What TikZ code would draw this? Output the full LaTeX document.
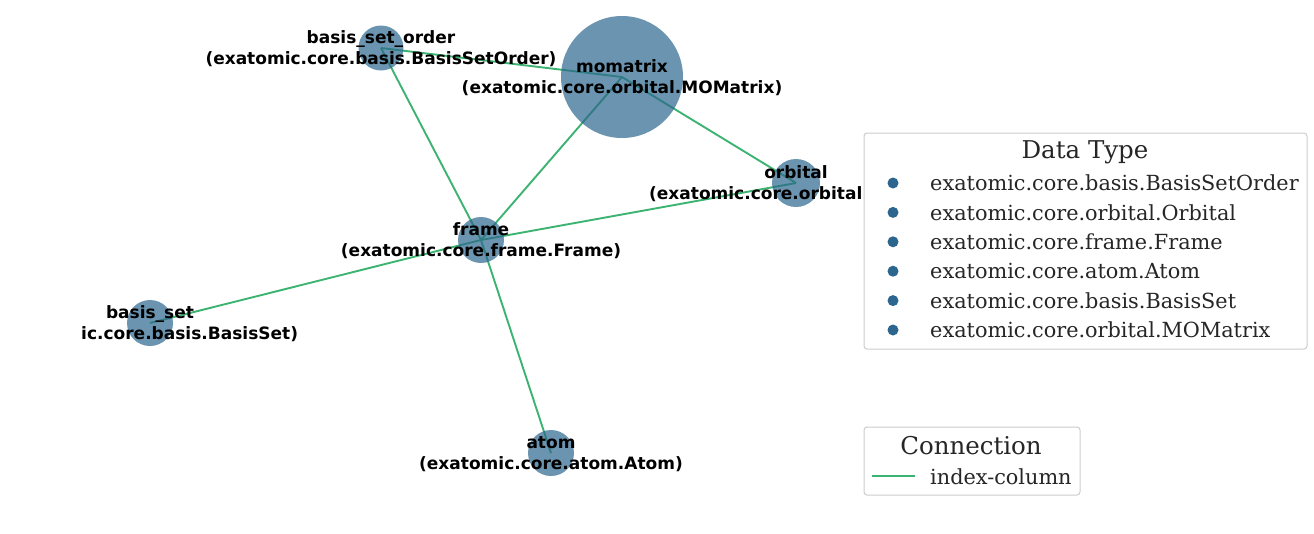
\documentclass[tikz,border=0pt]{standalone}
\usepackage{fontspec}
\newfontfamily\lblfont{DejaVu Sans}
\newfontfamily\legfont{DejaVu Serif}
\definecolor{nodec}{HTML}{2C668E}
\definecolor{edgec}{HTML}{3CB371}
\definecolor{legdot}{HTML}{2C668E}
\definecolor{framec}{HTML}{CCCCCC}
\definecolor{legtext}{HTML}{262626}
\tikzset{
  gnode/.style={circle, fill=nodec, fill opacity=0.7, inner sep=0pt, draw=none},
  gedge/.style={draw=edgec, line width=1.9pt},
  glabel/.style={font=\lblfont\bfseries\fontsize{17}{21}\selectfont, align=center, text=black, inner sep=0pt},
  legbox/.style={draw=framec, fill=white, rounded corners=3pt, line width=1pt},
  legitem/.style={font=\legfont\fontsize{20.8}{24}\selectfont, text=legtext, anchor=west, inner sep=0pt},
  legtitle/.style={font=\legfont\fontsize{24.5}{28}\selectfont, text=legtext, inner sep=0pt},
  legdotst/.style={circle, fill=legdot, inner sep=0pt, minimum size=11pt}
}
\begin{document}
\begin{tikzpicture}[x=1pt, y=-1pt]
\useasboundingbox (0,0) rectangle (1314,533);
\begin{scope}
\clip (81,0) rectangle (1314,533);
% node positions
\coordinate (bso) at (381,48);
\coordinate (mom) at (622,77);
\coordinate (orb) at (796,183);
\coordinate (frm) at (481,240);
\coordinate (bs) at (150,323);
\coordinate (atm) at (551,453);
% edges
\draw[gedge] (bso) -- (mom);
\draw[gedge] (bso) -- (frm);
\draw[gedge] (mom) -- (frm);
\draw[gedge] (mom) -- (orb);
\draw[gedge] (frm) -- (orb);
\draw[gedge] (frm) -- (bs);
\draw[gedge] (frm) -- (atm);
% nodes
\node[gnode, minimum size=45pt] (nbso) at (bso) {};
\node[gnode, minimum size=122pt] (nmom) at (mom) {};
\node[gnode, minimum size=48pt] (norb) at (orb) {};
\node[gnode, minimum size=46pt] (nfrm) at (frm) {};
\node[gnode, minimum size=46pt] (nbs) at (bs) {};
\node[gnode, minimum size=46pt] (natm) at (atm) {};
% labels
\node[glabel] (lbso) at (381,49) {basis\_set\_order\\(exatomic.core.basis.BasisSetOrder)};
\node[glabel] (lmom) at (622,78) {momatrix\\(exatomic.core.orbital.MOMatrix)};
\node[glabel] (lorb) at (796,184) {orbital\\(exatomic.core.orbital.Orbital)};
\node[glabel] (lfrm) at (481,241) {frame\\(exatomic.core.frame.Frame)};
\node[glabel] (lbs) at (150,324) {basis\_set\\(exatomic.core.basis.BasisSet)};
\node[glabel] (latm) at (551,454) {atom\\(exatomic.core.atom.Atom)};
\end{scope}
% legend: Data Type
\draw[legbox] (864,133) rectangle (1307,349);
\node[legtitle] (t1) at (1085,152) {Data Type};
\foreach \y/\t [count=\i] in {183/exatomic.core.basis.BasisSetOrder, 212.4/exatomic.core.orbital.Orbital, 241.8/exatomic.core.frame.Frame, 271.2/exatomic.core.atom.Atom, 300.6/exatomic.core.basis.BasisSet, 330/exatomic.core.orbital.MOMatrix}{
  \node[legdotst] (d\i) at (893,\y) {};
  \node[legitem] (e\i) at (930,\y) {\t};
}
% legend: Connection
\draw[legbox] (864,427) rectangle (1080,495);
\node[legtitle] (t2) at (971,446) {Connection};
\coordinate (ls) at (872,476);
\coordinate (le) at (915,476);
\draw[gedge, line width=2.6pt] (ls) -- (le);
\node[legitem] (c1) at (930,477) {index-column};
\end{tikzpicture}
\end{document}
